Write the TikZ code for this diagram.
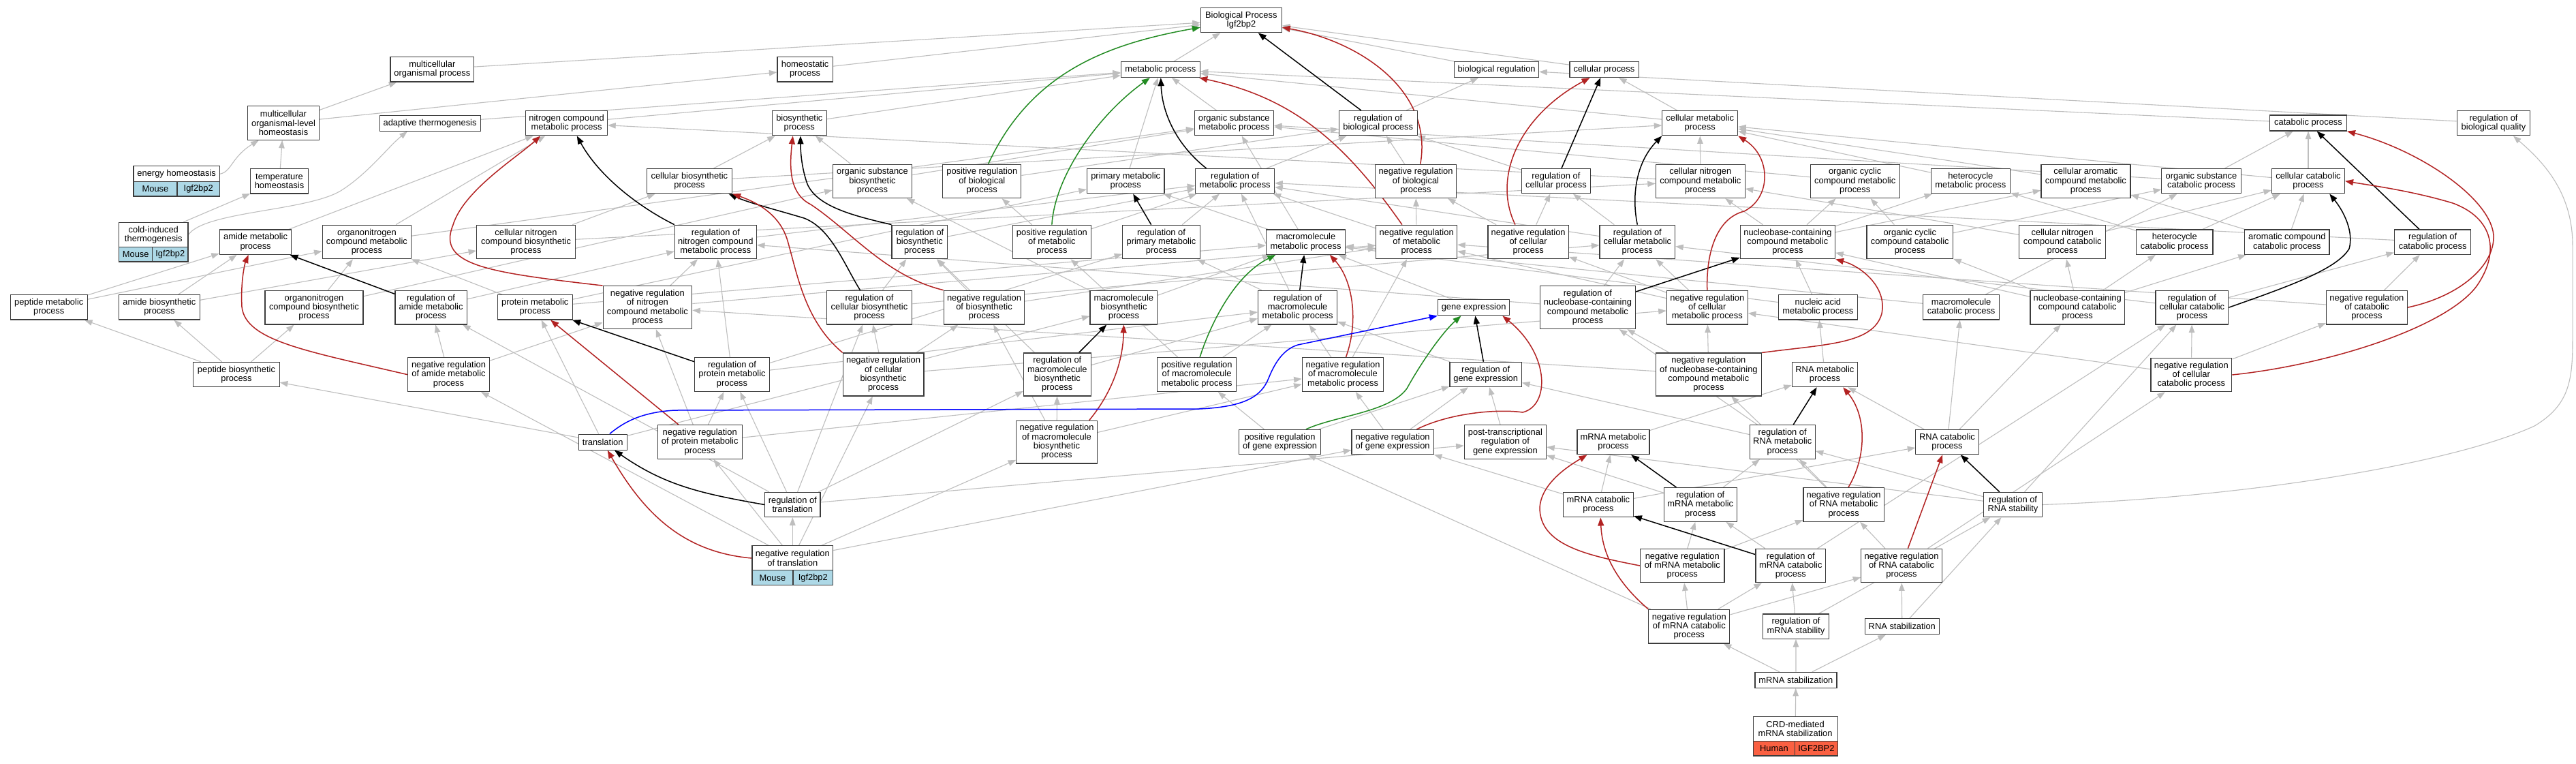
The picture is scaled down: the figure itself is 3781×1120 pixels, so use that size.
\documentclass[tikz,border=0pt]{standalone}
\usepackage{fontspec}
\setmainfont{Liberation Sans}
\usetikzlibrary{arrows.meta}
\pgfdeclarelayer{bg}
\pgfsetlayers{bg,main}
\definecolor{edgegray}{RGB}{190,190,190}
\definecolor{negred}{RGB}{178,34,34}
\definecolor{posgreen}{RGB}{34,139,34}
\definecolor{partblue}{RGB}{0,0,255}
\definecolor{lblue}{RGB}{173,216,230}
\definecolor{hred}{RGB}{250,96,66}
\definecolor{boxline}{RGB}{60,60,60}
\tikzset{
 go/.style={draw=boxline, line width=1.2pt, fill=white, align=center, inner xsep=3pt, inner ysep=0pt, font=\fontsize{12.9}{13.3}\selectfont},
 l1/.style={minimum height=23pt},
 l2/.style={minimum height=36.3pt},
 l3/.style={minimum height=49.6pt},
 l4/.style={minimum height=62.9pt},
 cellb/.style={go, fill=lblue, minimum height=21.5pt},
 cellr/.style={go, fill=hred, minimum height=21.4pt},
 gedge/.style={color=edgegray, line width=1.1pt, -{Triangle[length=11.5pt,width=8.5pt]}},
 kedge/.style={color=black, line width=1.5pt, -{Triangle[length=12pt,width=9pt]}},
 redge/.style={color=negred, line width=1.5pt, -{Triangle[length=12pt,width=9pt]}},
 gredge/.style={color=posgreen, line width=1.5pt, -{Triangle[length=12pt,width=9pt]}},
 bedge/.style={color=partblue, line width=1.5pt, -{Triangle[length=12pt,width=9pt]}}
}
\newcommand\Eg[2]{\draw[gedge] (#1) -- (#2);}
\newcommand\Ek[2]{\draw[kedge] (#1) -- (#2);}
\newcommand\Er[2]{\draw[redge] (#1) -- (#2);}
\begin{document}
\begin{tikzpicture}[x=1pt,y=1pt]
\useasboundingbox (0,0) rectangle (3781,-1120);
% ---------------- nodes ----------------
\node[go,l2,minimum width=118.8pt] (BP) at (1821.8,-29.6) {Biological Process\\Igf2bp2};
\node[go,l2,minimum width=122.7pt] (mop) at (634.3,-101.8) {multicellular\\organismal process};
\node[go,l2,minimum width=81.2pt] (homeo) at (1181.6,-101.8) {homeostatic\\process};
\node[go,l1,minimum width=115.9pt] (metab) at (1703.3,-102.1) {metabolic process};
\node[go,l1,minimum width=124.1pt] (bioreg) at (2196.6,-102) {biological regulation};
\node[go,l1,minimum width=101.2pt] (cellproc) at (2354.5,-102) {cellular process};
\node[go,l3,minimum width=104.5pt] (molhome) at (416,-180.5) {multicellular\\organismal-level\\homeostasis};
\node[go,l1,minimum width=148pt] (adapt) at (631.1,-180.7) {adaptive thermogenesis};
\node[go,l2,minimum width=120pt] (nitromp) at (831.6,-180.7) {nitrogen compound\\metabolic process};
\node[go,l2,minimum width=80pt] (biosyn) at (1173.3,-180.7) {biosynthetic\\process};
\node[go,l2,minimum width=116.3pt] (orgsubmp) at (1811.3,-180.7) {organic substance\\metabolic process};
\node[go,l2,minimum width=115.1pt] (regbio) at (2022.7,-180.7) {regulation of\\biological process};
\node[go,l2,minimum width=110.8pt] (cellmp) at (2495.2,-180.7) {cellular metabolic\\process};
\node[go,l1,minimum width=112.7pt] (catab) at (3388,-180.5) {catabolic process};
\node[go,l2,minimum width=107.4pt] (regbq) at (3660,-180.7) {regulation of\\biological quality};
% row 3
\node[go,l1,minimum width=126.5pt] (energy) at (259.2,-255.2) {energy homeostasis};
\node[cellb,minimum width=64.1pt] (energyA) at (228,-277.2) {Mouse};
\node[cellb,minimum width=62.4pt] (energyB) at (291.2,-277.2) {Igf2bp2};
\node[go,l2,minimum width=84.4pt] (temp) at (410,-265.9) {temperature\\homeostasis};
\node[go,l2,minimum width=125.3pt] (cellbp) at (1011.9,-265.7) {cellular biosynthetic\\process};
\node[go,l3,minimum width=116.6pt] (orgsubbp) at (1280.5,-265.9) {organic substance\\biosynthetic\\process};
\node[go,l3,minimum width=115.1pt] (posbio) at (1441.3,-265.9) {positive regulation\\of biological\\process};
\node[go,l2,minimum width=113.5pt] (primmp) at (1652.2,-265.7) {primary metabolic\\process};
\node[go,l2,minimum width=115.9pt] (regmp) at (1812.7,-265.7) {regulation of\\metabolic process};
\node[go,l3,minimum width=118.7pt] (negbio) at (2078,-265.9) {negative regulation\\of biological\\process};
\node[go,l2,minimum width=101.2pt] (regcell) at (2283.9,-265.7) {regulation of\\cellular process};
\node[go,l3,minimum width=130.8pt] (celNmp) at (2495.8,-265.9) {cellular nitrogen\\compound metabolic\\process};
\node[go,l3,minimum width=131.1pt] (orgcycmp) at (2722.7,-265.9) {organic cyclic\\compound metabolic\\process};
\node[go,l2,minimum width=116.3pt] (heteromp) at (2892.4,-265.7) {heterocycle\\metabolic process};
\node[go,l3,minimum width=131pt] (celaromp) at (3061.4,-265.9) {cellular aromatic\\compound metabolic\\process};
\node[go,l2,minimum width=116.4pt] (orgsubcat) at (3231,-265.7) {organic substance\\catabolic process};
\node[go,l2,minimum width=106.9pt] (cellcat) at (3388,-265.7) {cellular catabolic\\process};
% row 4
\node[go,l2,minimum width=101.2pt] (cold) at (225.3,-344.5) {cold-induced\\thermogenesis};
\node[cellb,minimum width=49pt,minimum height=21.4pt] (coldA) at (199.2,-373.2) {Mouse};
\node[cellb,minimum width=52.2pt,minimum height=21.4pt] (coldB) at (249.8,-373.2) {Igf2bp2};
\node[go,l2,minimum width=105.4pt] (amidemp) at (375.1,-355.2) {amide metabolic\\process};
\node[go,l3,minimum width=130.6pt] (orgNmp) at (538.4,-355) {organonitrogen\\compound metabolic\\process};
\node[go,l3,minimum width=144.5pt] (celNbp) at (772,-355) {cellular nitrogen\\compound biosynthetic\\process};
\node[go,l3,minimum width=120pt] (regnitro) at (1050.4,-355) {regulation of\\nitrogen compound\\metabolic process};
\node[go,l3,minimum width=81.6pt] (regbpsyn) at (1349.8,-355) {regulation of\\biosynthetic\\process};
\node[go,l3,minimum width=114.7pt] (posmp) at (1543.9,-355) {positive regulation\\of metabolic\\process};
\node[go,l3,minimum width=113.4pt] (regprim) at (1704.5,-355) {regulation of\\primary metabolic\\process};
\node[go,l2,minimum width=116.1pt] (macromp) at (1916.5,-355.2) {macromolecule\\metabolic process};
\node[go,l3,minimum width=118.8pt] (negmp) at (2079.2,-355) {negative regulation\\of metabolic\\process};
\node[go,l3,minimum width=118.3pt] (negcell) at (2243.1,-355) {negative regulation\\of cellular\\process};
\node[go,l3,minimum width=110.6pt] (regcellmp) at (2403.3,-355) {regulation of\\cellular metabolic\\process};
\node[go,l3,minimum width=139.2pt] (nucmp) at (2623.9,-355) {nucleobase-containing\\compound metabolic\\process};
\node[go,l3,minimum width=126.5pt] (orgcyccat) at (2803.3,-355) {organic cyclic\\compound catabolic\\process};
\node[go,l3,minimum width=126.9pt] (celNcat) at (3027.2,-355) {cellular nitrogen\\compound catabolic\\process};
\node[go,l2,minimum width=112.4pt] (heterocat) at (3191.7,-355.2) {heterocycle\\catabolic process};
\node[go,l2,minimum width=124.5pt] (arocat) at (3356.8,-355.2) {aromatic compound\\catabolic process};
\node[go,l2,minimum width=112.2pt] (regcat) at (3570.6,-355.2) {regulation of\\catabolic process};
% row 5
\node[go,l2,minimum width=112.7pt] (pepmp) at (71.8,-450.9) {peptide metabolic\\process};
\node[go,l2,minimum width=118.4pt] (amidebp) at (233.9,-450.9) {amide biosynthetic\\process};
\node[go,l3,minimum width=144.1pt] (orgNbp) at (461,-451.1) {organonitrogen\\compound biosynthetic\\process};
\node[go,l3,minimum width=105.1pt] (regamide) at (632.6,-451.1) {regulation of\\amide metabolic\\process};
\node[go,l2,minimum width=109.8pt] (protmp) at (785.3,-450.9) {protein metabolic\\process};
\node[go,l4,minimum width=130.6pt] (negnitro) at (950.4,-451.1) {negative regulation\\of nitrogen\\compound metabolic\\process};
\node[go,l3,minimum width=125.5pt] (regcellbp) at (1276,-451.1) {regulation of\\cellular biosynthetic\\process};
\node[go,l3,minimum width=118.4pt] (negbpsyn) at (1444.5,-451.1) {negative regulation\\of biosynthetic\\process};
\node[go,l3,minimum width=98.8pt] (macrobp) at (1649.4,-451.1) {macromolecule\\biosynthetic\\process};
\node[go,l3,minimum width=116.2pt] (regmacromp) at (1904.6,-451.1) {regulation of\\macromolecule\\metabolic process};
\node[go,l1,minimum width=105.3pt] (gene) at (2163.1,-451.3) {gene expression};
\node[go,l4,minimum width=139.6pt] (regnucmp) at (2330.4,-451.1) {regulation of\\nucleobase-containing\\compound metabolic\\process};
\node[go,l3,minimum width=119pt] (negcellmp) at (2505.8,-451.1) {negative regulation\\of cellular\\metabolic process};
\node[go,l2,minimum width=116.3pt] (nucacid) at (2668.4,-450.9) {nucleic acid\\metabolic process};
\node[go,l2,minimum width=112.3pt] (macrocat) at (2878.6,-450.9) {macromolecule\\catabolic process};
\node[go,l3,minimum width=138.4pt] (nuccat) at (3049.2,-451.1) {nucleobase-containing\\compound catabolic\\process};
\node[go,l3,minimum width=106.9pt] (regcellcat) at (3217.4,-451.1) {regulation of\\cellular catabolic\\process};
\node[go,l3,minimum width=118.7pt] (negcat) at (3473.9,-451.1) {negative regulation\\of catabolic\\process};
% row 6
\node[go,l2,minimum width=126.5pt] (pepbp) at (347,-549.5) {peptide biosynthetic\\process};
\node[go,l3,minimum width=120.2pt] (negamide) at (658.5,-549.6) {negative regulation\\of amide metabolic\\process};
\node[go,l3,minimum width=109.4pt] (regprot) at (1074.5,-549.6) {regulation of\\protein metabolic\\process};
\node[go,l4,minimum width=118.6pt] (negcellbp) at (1296.6,-549.5) {negative regulation\\of cellular\\biosynthetic\\process};
\node[go,l4,minimum width=98.8pt] (regmacrobp) at (1551.8,-549.5) {regulation of\\macromolecule\\biosynthetic\\process};
\node[go,l3,minimum width=116.3pt] (posmacromp) at (1756.6,-549.6) {positive regulation\\of macromolecule\\metabolic process};
\node[go,l3,minimum width=119.6pt] (negmacromp) at (1971,-549.6) {negative regulation\\of macromolecule\\metabolic process};
\node[go,l2,minimum width=105.3pt] (reggene) at (2180.7,-549.5) {regulation of\\gene expression};
\node[go,l4,minimum width=154.9pt] (negnucmp) at (2507.9,-549.5) {negative regulation\\of nucleobase-containing\\compound metabolic\\process};
\node[go,l2,minimum width=96.3pt] (RNAmp) at (2678.4,-549.5) {RNA metabolic\\process};
\node[go,l3,minimum width=118.8pt] (negcellcat) at (3216.3,-550) {negative regulation\\of cellular\\catabolic process};
% row 7
\node[go,l1,minimum width=71pt] (transl) at (884.7,-648.6) {translation};
\node[go,l3,minimum width=124.1pt] (negprot) at (1027.2,-648.6) {negative regulation\\of protein metabolic\\process};
\node[go,l4,minimum width=118.4pt] (negmacrobp) at (1551,-648.6) {negative regulation\\of macromolecule\\biosynthetic\\process};
\node[go,l2,minimum width=120.2pt] (posgene) at (1878.5,-648.6) {positive regulation\\of gene expression};
\node[go,l2,minimum width=120.4pt] (neggene) at (2044.1,-648.6) {negative regulation\\of gene expression};
\node[go,l3,minimum width=120.4pt] (post) at (2209.4,-648.6) {post-transcriptional\\regulation of\\gene expression};
\node[go,l2,minimum width=106.1pt] (mRNAmp) at (2368,-648.6) {mRNA metabolic\\process};
\node[go,l3,minimum width=95.9pt] (regRNAmp) at (2616.2,-648.6) {regulation of\\RNA metabolic\\process};
\node[go,l2,minimum width=92.3pt] (RNAcat) at (2858,-648.6) {RNA catabolic\\process};
% row 8
\node[go,l2,minimum width=81.2pt] (regtransl) at (1163.3,-740.5) {regulation of\\translation};
\node[go,l2,minimum width=102.8pt] (mRNAcat) at (2345.9,-740.7) {mRNA catabolic\\process};
\node[go,l3,minimum width=107.2pt] (regmRNAmp) at (2495.8,-740.5) {regulation of\\mRNA metabolic\\process};
\node[go,l3,minimum width=118.4pt] (negRNAmp) at (2706.1,-740.5) {negative regulation\\of RNA metabolic\\process};
\node[go,l2,minimum width=85.3pt] (regRNAstab) at (2954.5,-740.5) {regulation of\\RNA stability};
% row 9
\node[go,l2,minimum width=118.7pt] (negtransl) at (1163.3,-819) {negative regulation\\of translation};
\node[cellb,minimum width=60pt,minimum height=21.8pt] (negtranslA) at (1133.9,-847.7) {Mouse};
\node[cellb,minimum width=58.7pt,minimum height=21.8pt] (negtranslB) at (1193.3,-847.7) {Igf2bp2};
\node[go,l3,minimum width=123.4pt] (negmRNAmp) at (2469.3,-830) {negative regulation\\of mRNA metabolic\\process};
\node[go,l3,minimum width=102.5pt] (regmRNAcat) at (2628.3,-830) {regulation of\\mRNA catabolic\\process};
\node[go,l3,minimum width=118.4pt] (negRNAcat) at (2791,-830) {negative regulation\\of RNA catabolic\\process};
% row 10
\node[go,l3,minimum width=119pt] (negmRNAcat) at (2479.3,-919.1) {negative regulation\\of mRNA catabolic\\process};
\node[go,l2,minimum width=96.3pt] (regmRNAstab) at (2636,-919.1) {regulation of\\mRNA stability};
\node[go,l1,minimum width=109.4pt] (RNAstab) at (2791.8,-919.3) {RNA stabilization};
\node[go,l1,minimum width=120pt] (mRNAstab) at (2635.9,-997.8) {mRNA stabilization};
\node[go,l2,minimum width=124pt] (CRD) at (2635.1,-1069.7) {CRD-mediated\\mRNA stabilization};
\node[cellr,minimum width=61.6pt] (CRDA) at (2603.9,-1098.2) {Human};
\node[cellr,minimum width=62.4pt] (CRDB) at (2665.9,-1098.2) {IGF2BP2};
% ---------------- edges ----------------
\begin{pgfonlayer}{bg}
\fill[white] (0,0) rectangle (3781,-1120);
% gray
\Eg{mop}{BP} \Eg{homeo}{BP} \Eg{metab}{BP} \Eg{bioreg}{BP} \Eg{cellproc}{BP}
\Eg{molhome}{mop} \Eg{molhome}{homeo} \Eg{temp}{molhome} \Eg{cold}{temp} \Eg{adapt}{metab}
\draw[gedge] (energy.east) .. controls (340,-252) and (340,-230) .. (molhome.215);
\draw[gedge] (cold.east) .. controls (300,-310) and (450,-310) .. (500,-280) .. controls (540,-255) and (570,-215) .. (adapt.200);
\Eg{nitromp}{metab} \Eg{biosyn}{metab} \Eg{orgsubmp}{metab} \Eg{primmp}{metab} \Eg{cellmp}{metab} \Eg{cellmp}{cellproc} \Eg{catab}{metab}
\Eg{regbio}{bioreg} \Eg{regbq}{bioreg}
\Eg{amidemp}{nitromp} \Eg{orgNmp}{nitromp} \Eg{orgNmp}{orgsubmp}
\Eg{pepmp}{amidemp} \Eg{pepmp}{orgNmp} \Eg{amidebp}{amidemp} \Eg{amidebp}{celNbp} \Eg{orgNbp}{orgNmp} \Eg{orgNbp}{orgsubbp}
\Eg{pepbp}{pepmp} \Eg{pepbp}{amidebp} \Eg{pepbp}{orgNbp}
\Eg{regamide}{regnitro} \Eg{negamide}{regamide} \Eg{negamide}{negnitro}
\Eg{protmp}{macromp} \Eg{protmp}{orgNmp} \Eg{protmp}{primmp}
\Eg{celNbp}{cellbp} \Eg{celNbp}{celNmp} \Eg{cellbp}{biosyn} \Eg{cellbp}{cellmp} \Eg{orgsubbp}{biosyn} \Eg{orgsubbp}{orgsubmp}
\Eg{regnitro}{regmp} \Eg{negnitro}{regnitro} \Eg{negnitro}{negmp}
\Eg{regprot}{regnitro} \Eg{regprot}{regmacromp} \Eg{regprot}{regprim}
\Eg{negprot}{regprot} \Eg{negprot}{negnitro} \Eg{negprot}{negmacromp}
\Eg{transl}{protmp} \Eg{transl}{pepbp} \Eg{transl}{macrobp}
\Eg{regtransl}{regprot} \Eg{regtransl}{regamide} \Eg{regtransl}{post} \Eg{regtransl}{regmacrobp} \Eg{regtransl}{regcellbp}
\Eg{negtransl}{regtransl} \Eg{negtransl}{negamide} \Eg{negtransl}{negprot} \Eg{negtransl}{negmacrobp} \Eg{negtransl}{negcellbp} \Eg{negtransl}{neggene}
\Eg{regcellbp}{regbpsyn} \Eg{regcellbp}{regcellmp}
\Eg{negcellbp}{regcellbp} \Eg{negcellbp}{negbpsyn} \Eg{negcellbp}{negcellmp}
\Eg{regbpsyn}{regmp} \Eg{negbpsyn}{regbpsyn} \Eg{negbpsyn}{negmp}
\Eg{posbio}{regbio} \Eg{posmp}{regmp} \Eg{posmp}{posbio} \Eg{regprim}{regmp} \Eg{regmp}{regbio}
\Eg{macromp}{primmp} \Eg{macromp}{orgsubmp}
\Eg{posmacromp}{regmacromp} \Eg{posmacromp}{posmp}
\Eg{regmacrobp}{regmacromp} \Eg{regmacrobp}{regbpsyn}
\Eg{negmacrobp}{regmacrobp} \Eg{negmacrobp}{negbpsyn} \Eg{negmacrobp}{negmacromp}
\Eg{macrobp}{macromp} \Eg{macrobp}{orgsubbp}
\Eg{regmacromp}{regmp} \Eg{regmacromp}{regprim}
\Eg{negmacromp}{regmacromp} \Eg{negmacromp}{negmp}
\Eg{regcell}{regbio} \Eg{negcell}{regcell} \Eg{negcell}{negbio} \Eg{negbio}{regbio}
\Eg{negmp}{negbio} \Eg{negmp}{regmp}
\Eg{regcellmp}{regcell} \Eg{regcellmp}{regmp}
\Eg{negcellmp}{regcellmp} \Eg{negcellmp}{negcell} \Eg{negcellmp}{negmp}
\Eg{gene}{macromp} \Eg{reggene}{regmacromp}
\Eg{neggene}{reggene} \Eg{neggene}{negmacromp}
\Eg{posgene}{posmacromp} \Eg{posgene}{reggene} \Eg{post}{reggene}
\Eg{regnucmp}{regcellmp} \Eg{regnucmp}{regnitro}
\Eg{negnucmp}{regnucmp} \Eg{negnucmp}{negcellmp} \Eg{negnucmp}{negnitro}
\Eg{mRNAmp}{RNAmp} \Eg{mRNAcat}{mRNAmp} \Eg{mRNAcat}{RNAcat} \Eg{mRNAcat}{neggene}
\Eg{regmRNAmp}{regRNAmp} \Eg{regmRNAmp}{post}
\Eg{negmRNAmp}{regmRNAmp} \Eg{negmRNAmp}{negRNAmp}
\Eg{regmRNAcat}{regmRNAmp} \Eg{regmRNAcat}{regcellcat}
\Eg{negmRNAcat}{regmRNAcat} \Eg{negmRNAcat}{negmRNAmp} \Eg{negmRNAcat}{negRNAcat} \Eg{negmRNAcat}{posgene}
\Eg{regRNAmp}{regnucmp} \Eg{regRNAmp}{reggene}
\Eg{negRNAmp}{regRNAmp} \Eg{negRNAmp}{negnucmp}
\Eg{RNAmp}{nucacid} \Eg{nucacid}{nucmp} \Eg{nucacid}{macromp}
\Eg{nucmp}{celNmp} \Eg{nucmp}{orgcycmp} \Eg{nucmp}{heteromp} \Eg{nucmp}{celaromp}
\Eg{celNmp}{cellmp} \Eg{celNmp}{nitromp}
\Eg{orgcycmp}{orgsubmp} \Eg{heteromp}{cellmp} \Eg{celaromp}{cellmp}
\Eg{orgcyccat}{orgcycmp} \Eg{orgcyccat}{orgsubcat}
\Eg{celNcat}{celNmp} \Eg{celNcat}{cellcat}
\Eg{heterocat}{heteromp} \Eg{heterocat}{cellcat}
\Eg{arocat}{celaromp} \Eg{arocat}{cellcat}
\Eg{orgsubcat}{catab} \Eg{orgsubcat}{orgsubmp}
\Eg{cellcat}{catab} \Eg{cellcat}{cellmp}
\Eg{regcat}{regmp} \Eg{regcellcat}{regcat} \Eg{regcellcat}{regcellmp}
\Eg{negcat}{regcat} \Eg{negcat}{negmp}
\Eg{negcellcat}{regcellcat} \Eg{negcellcat}{negcat} \Eg{negcellcat}{negcellmp}
\Eg{nuccat}{nucmp} \Eg{nuccat}{orgcyccat} \Eg{nuccat}{celNcat} \Eg{nuccat}{heterocat} \Eg{nuccat}{arocat}
\Eg{macrocat}{macromp} \Eg{macrocat}{orgsubcat}
\Eg{RNAcat}{RNAmp} \Eg{RNAcat}{macrocat} \Eg{RNAcat}{nuccat}
\Eg{regRNAstab}{regRNAmp} \Eg{regRNAstab}{regcellcat} \Eg{regRNAstab}{post}
\draw[gedge] (regRNAstab.east) .. controls (3300,-730) and (3600,-680) .. (3720,-625) .. controls (3770,-595) and (3776,-560) .. (3776,-500) -- (3776,-360) .. controls (3776,-280) and (3730,-235) .. (regbq.-33);
\Eg{negRNAcat}{negRNAmp} \Eg{negRNAcat}{negcellcat}
\Eg{regmRNAstab}{regRNAstab} \Eg{regmRNAstab}{regmRNAcat}
\Eg{RNAstab}{regRNAstab} \Eg{RNAstab}{negRNAcat}
\Eg{mRNAstab}{regmRNAstab} \Eg{mRNAstab}{RNAstab} \Eg{mRNAstab}{negmRNAcat}
\Eg{CRD}{mRNAstab}
% black
\Ek{regbio}{BP}
\draw[kedge] (regmp.156) .. controls (1730,-215) and (1706,-170) .. (metab.-88);
\draw[kedge] (regnitro.north west) .. controls (940,-305) and (880,-260) .. (nitromp.-51);
\draw[kedge] (regbpsyn.north west) .. controls (1260,-318) and (1200,-305) .. (1185,-270) .. controls (1176,-245) and (1175,-220) .. (biosyn.-85);
\draw[kedge] (regcellbp.118) .. controls (1240,-390) and (1220,-335) .. (1180,-320) .. controls (1140,-308) and (1100,-298) .. (cellbp.-18);
\Ek{regamide}{amidemp}
\Ek{regprot}{protmp}
\draw[kedge] (regtransl.west) to[out=170,in=-35] (transl);
\Ek{regprim}{primmp}
\Ek{regmacrobp}{macrobp}
\Ek{regmacromp}{macromp}
\Ek{regcell}{cellproc}
\draw[kedge] (regcellmp.north) .. controls (2395,-290) and (2400,-240) .. (cellmp.south west);
\Ek{reggene}{gene}
\Ek{regnucmp}{nucmp}
\Ek{regmRNAmp}{mRNAmp}
\Ek{regmRNAcat}{mRNAcat}
\Ek{regRNAmp}{RNAmp}
\Ek{regRNAstab}{RNAcat}
\Ek{regcat}{catab}
\draw[kedge] (regcellcat.east) .. controls (3360,-420) and (3430,-395) .. (3448,-365) .. controls (3455,-340) and (3440,-310) .. (cellcat.-31);
% red
\draw[redge] (negbio.75) to[out=80,in=-10] (BP);
\draw[redge] (negmp.130) to[out=125,in=-12] (metab);
\draw[redge] (negnitro.north west) .. controls (720,-400) and (640,-390) .. (665,-330) .. controls (680,-280) and (760,-230) .. (nitromp.206);
\draw[redge] (negbpsyn.north west) .. controls (1300,-405) and (1250,-340) .. (1190,-300) .. controls (1160,-285) and (1158,-250) .. (biosyn.243);
\draw[redge] (negcellbp.north west) .. controls (1180,-470) and (1170,-400) .. (1155,-350) .. controls (1145,-320) and (1120,-300) .. (cellbp.south east);
\draw[redge] (negamide.west) .. controls (450,-515) and (360,-500) .. (355,-450) .. controls (353,-410) and (360,-385) .. (amidemp.-119);
\Er{negprot}{protmp}
\draw[redge] (negtransl.west) to[out=175,in=-60] (transl);
\draw[redge] ([xshift=-12pt]negmacrobp.north east) .. controls (1625,-585) and (1648,-540) .. (macrobp.south);
\draw[redge] (negmacromp.80) .. controls (1995,-470) and (1985,-410) .. (macromp.-28);
\draw[redge] (negcell.127) .. controls (2190,-260) and (2230,-170) .. (cellproc.210);
\draw[redge] (negcellmp.north) .. controls (2504,-370) and (2520,-320) .. (2560,-310) .. controls (2600,-290) and (2600,-230) .. (cellmp.south east);
\draw[redge] (neggene.28) .. controls (2130,-605) and (2200,-600) .. (2235,-605) .. controls (2275,-595) and (2275,-520) .. (gene.-16);
\draw[redge] (negnucmp.north east) .. controls (2680,-505) and (2750,-505) .. (2762,-460) .. controls (2770,-420) and (2730,-390) .. (nucmp.south east);
\draw[redge] (negmRNAmp.west) .. controls (2330,-815) and (2260,-800) .. (2260,-745) .. controls (2262,-710) and (2300,-685) .. (mRNAmp.206);
\draw[redge] (negmRNAcat.north west) .. controls (2380,-860) and (2352,-820) .. (mRNAcat.-80);
\draw[redge] (negRNAmp.75) .. controls (2740,-670) and (2740,-610) .. (RNAmp.-35);
\Er{negRNAcat}{RNAcat}
\draw[redge] (negcat.east) .. controls (3610,-435) and (3662,-390) .. (3660,-345) .. controls (3655,-290) and (3550,-220) .. (catab.south east);
\draw[redge] (negcellcat.east) .. controls (3420,-535) and (3590,-480) .. (3635,-420) .. controls (3670,-370) and (3660,-320) .. (3600,-298) .. controls (3540,-280) and (3480,-272) .. (cellcat.east);
% green
\draw[gredge] (posbio.70) to[out=65,in=190] (BP);
\draw[gredge] (posmp.north) .. controls (1548,-260) and (1610,-170) .. (metab.218);
\draw[gredge] (posmacromp.80) .. controls (1775,-480) and (1810,-405) .. (macromp.203);
\draw[gredge] (posgene.26) .. controls (1960,-610) and (2040,-605) .. (2065,-570) .. controls (2090,-525) and (2120,-485) .. (gene.213);
% blue
\draw[bedge] (transl.50) .. controls (915,-620) and (940,-605) .. (990,-602) -- (1760,-600) .. controls (1830,-597) and (1852,-580) .. (1862,-555) .. controls (1872,-530) and (1885,-512) .. (1905,-506) -- (gene.south west);
\end{pgfonlayer}
\end{tikzpicture}
\end{document}
